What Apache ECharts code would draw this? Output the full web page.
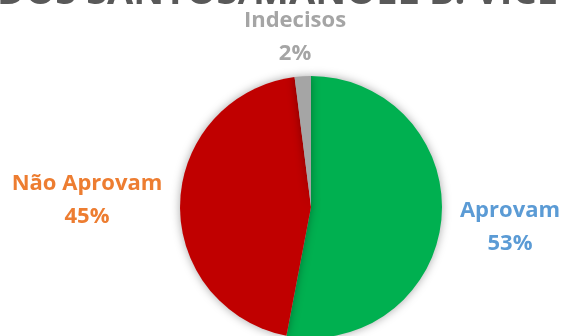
<!DOCTYPE html>
<html>
<head>
<meta charset="utf-8">
<script src="https://cdn.jsdelivr.net/npm/echarts@6/dist/echarts.min.js"></script>
<style>
  html, body { margin: 0; padding: 0; background: #ffffff; }
  #chart { width: 563px; height: 336px; }
</style>
</head>
<body>
<div id="chart"></div>
<script>
// Approval poll: slice names, shares (%) and colours
const categories = ['Aprovam', 'Não Aprovam', 'Indecisos'];
const shares = [53, 45, 2];
const sliceColors = ['#00B050', '#C00000', '#A5A5A5'];
const labelColors = ['#5B9BD5', '#ED7D31', '#A5A5A5'];
const titleText = 'DOS SANTOS/MANOEL B. VICE-';

// Label anchor points (centre of each two-line label)
const labelAnchors = [[510, 227], [87, 200], [295, 37]];

const chart = echarts.init(document.getElementById('chart'));

const data = categories.map((name, i) => ({
  name: name,
  value: shares[i],
  itemStyle: { color: sliceColors[i] },
  label: { color: labelColors[i] }
}));

chart.setOption({
  animation: false,
  graphic: [{
    type: 'text',
    x: -3,
    y: 12,
    z: 10,
    style: {
      text: titleText,
      fontFamily: 'Open Sans',
      fontWeight: 'bold',
      fontSize: 38,
      fill: '#595959',
      align: 'left',
      verticalAlign: 'bottom'
    }
  }],
  series: [{
    type: 'pie',
    center: [311, 207],
    radius: 131,
    startAngle: 90,
    clockwise: true,
    data: data,
    itemStyle: {
      shadowBlur: 10,
      shadowColor: 'rgba(0,0,0,0.35)'
    },
    label: {
      show: true,
      position: 'outside',
      formatter: p => p.name + '\n' + p.value + '%',
      fontFamily: 'Open Sans',
      fontWeight: 'bold',
      fontSize: 22,
      lineHeight: 33,
      align: 'center',
      overflow: 'none'
    },
    labelLine: { show: false },
    labelLayout: function (params) {
      const a = labelAnchors[params.dataIndex];
      return {
        x: a[0],
        y: a[1],
        align: 'center',
        verticalAlign: 'middle'
      };
    }
  }]
});
</script>
</body>
</html>
